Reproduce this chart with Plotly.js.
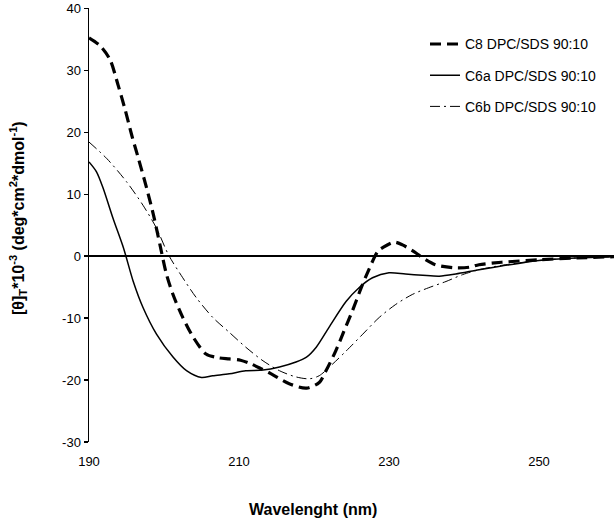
<!DOCTYPE html>
<html>
<head>
<meta charset="utf-8">
<script src="https://cdn.plot.ly/plotly-3.0.1.min.js"></script>
<style>html,body{margin:0;padding:0;background:#fff;}#chart{width:615px;height:519px;}</style>
</head>
<body>
<div id="chart"></div>
<script>
// Series names
const seriesNames = ["C8 DPC/SDS 90:10", "C6a DPC/SDS 90:10", "C6b DPC/SDS 90:10"];

// C8 (thick dashed)
const c8X = [190, 191.5, 192.8, 193.9, 194.8, 195.7, 196.6, 197.7, 198.6, 199.5, 200.3, 201.2, 202.5, 203.9, 205.6, 207.2, 208.7, 210.2, 211.6, 213.0, 214.3, 216.7, 219.0, 220.7, 221.6, 222.9, 224.0, 225.1, 226.3, 227.2, 228.5, 229.2, 230.7, 231.8, 233.6, 234.5, 236.2, 238.9, 240.7, 242.0, 245, 250, 255, 260];
const c8Y = [35.2, 33.9, 31.7, 27.5, 23.7, 19.5, 15.7, 10.9, 6.6, 1.6, -2.8, -6.2, -9.9, -13.1, -15.8, -16.4, -16.6, -16.8, -17.4, -18.2, -19.0, -20.6, -21.3, -20.4, -18.5, -15.3, -12.1, -8.9, -5.1, -2.5, 0.75, 1.4, 2.25, 1.8, 0.5, -0.3, -1.4, -1.9, -1.8, -1.4, -1.0, -0.6, -0.3, -0.1];

// C6a (solid)
const c6aX = [190, 191.0, 191.9, 193.2, 194.6, 195.9, 197.2, 199.0, 201.2, 203.0, 205.0, 206.5, 208.7, 210.9, 213.2, 215.4, 217.6, 219.0, 220.3, 222.0, 224.3, 226.0, 227.8, 230.0, 232.2, 234.5, 236.7, 238.9, 242.0, 245, 250, 255, 260];
const c6aY = [15.2, 13.6, 10.9, 6.1, 1.3, -4.1, -8.3, -12.6, -16.3, -18.5, -19.6, -19.3, -19.0, -18.5, -18.4, -17.9, -17.1, -16.3, -14.7, -11.5, -7.3, -5.1, -3.5, -2.7, -2.9, -3.1, -3.25, -2.9, -2.2, -1.6, -0.7, -0.3, -0.1];

// C6b (dash-dot)
const c6bX = [190, 192.4, 195.0, 197.2, 199.0, 200.6, 202.5, 204.3, 206.5, 208.7, 210.9, 213.2, 215.4, 217.6, 219.4, 220.7, 222.5, 224.3, 226.5, 228.7, 230.9, 233.1, 235.3, 237.6, 239.8, 242.0, 245, 250, 255, 260];
const c6bY = [18.4, 15.7, 12.0, 8.2, 4.5, 0.2, -3.5, -6.7, -9.9, -12.3, -14.7, -16.9, -18.5, -19.5, -19.8, -19.3, -17.4, -15.3, -12.6, -9.9, -7.8, -6.2, -5.1, -4.1, -3.0, -2.2, -1.5, -0.7, -0.3, -0.1];

// Axis ticks
const xTicks = [190, 210, 230, 250];
const yTicks = [-30, -20, -10, 0, 10, 20, 30, 40];

const FONT = "Liberation Sans, Arial, sans-serif";

const traces = [
  {x: c8X, y: c8Y, name: seriesNames[0], legendgroup: "a", mode: "lines",
   line: {color: "#000", width: 3.2, dash: "11px,6px", shape: "spline", smoothing: 0.8}},
  {x: c6aX, y: c6aY, name: seriesNames[1], legendgroup: "b", mode: "lines",
   line: {color: "#000", width: 1.5, shape: "spline", smoothing: 0.8}},
  {x: c6bX, y: c6bY, name: seriesNames[2], legendgroup: "c", mode: "lines",
   line: {color: "#000", width: 1, dash: "10px,4px,2px,4px", shape: "spline", smoothing: 0.8}}
];

const layout = {
  width: 615, height: 519,
  margin: {l: 89, r: 1, t: 8, b: 77, pad: 0},
  paper_bgcolor: "#fff", plot_bgcolor: "#fff",
  font: {family: FONT, color: "#000", size: 13},
  showlegend: true,
  legend: {x: 0.64, y: 0.953, xanchor: "left", yanchor: "top", bgcolor: "rgba(0,0,0,0)",
           font: {family: FONT, size: 14, color: "#000"}, tracegroupgap: 10},
  xaxis: {range: [190, 260], tickvals: xTicks, ticktext: xTicks.map(String),
          showline: false, showgrid: false, zeroline: false, ticks: "",
          ticklabelstandoff: 10, tickfont: {family: FONT, size: 13, color: "#000"}, fixedrange: true},
  yaxis: {range: [-30, 40.03], tickvals: yTicks, ticktext: yTicks.map(String),
          showline: true, linecolor: "#000", linewidth: 1.5, showgrid: false,
          zeroline: true, zerolinecolor: "#000", zerolinewidth: 1.5,
          ticks: "outside", ticklen: 4, tickwidth: 1.2, tickcolor: "#000",
          ticklabeloverflow: "allow",
          tickfont: {family: FONT, size: 13, color: "#000"}, fixedrange: true},
  annotations: [
    {text: "<b>Wavelenght (nm)</b>", xref: "paper", yref: "paper", x: (313 - 89) / 525, y: -0.155,
     xanchor: "center", yanchor: "middle", showarrow: false, font: {family: FONT, size: 16, color: "#000"}},
    {text: "<b>[θ]<sub>T</sub>*10<sup>-3</sup> (deg*cm<sup>2</sup>*dmol<sup>-1</sup>)</b>",
     xref: "paper", yref: "paper", x: -(89 - 18) / 525, y: (442 - 218) / 434,
     xanchor: "center", yanchor: "middle", textangle: -90, showarrow: false,
     font: {family: FONT, size: 16, color: "#000"}}
  ]
};

Plotly.newPlot("chart", traces, layout, {displayModeBar: false, staticPlot: true});
</script>
</body>
</html>
